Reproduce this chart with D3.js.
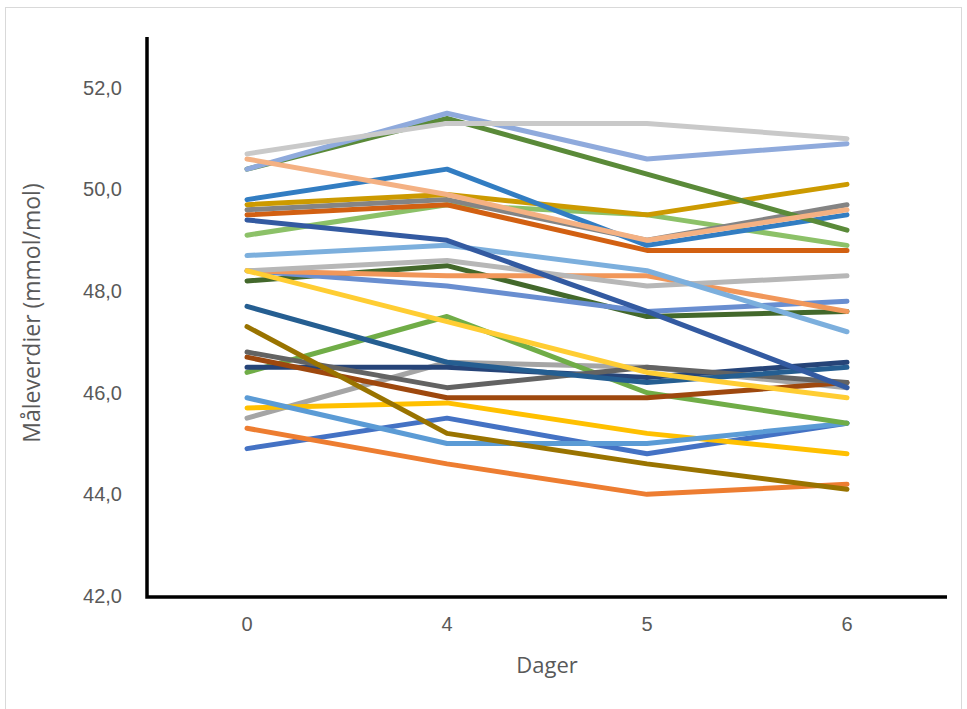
<!DOCTYPE html>
<html>
<head>
<meta charset="utf-8">
<script src="https://cdn.jsdelivr.net/npm/d3@7"></script>
<style>
  html, body { margin: 0; padding: 0; background: #ffffff; }
  svg { display: block; font-family: "Open Sans", "Noto Sans", sans-serif; }
</style>
</head>
<body>
<svg id="chart" width="967" height="709"></svg>
<script>
// Days on the x axis
const days = ["0", "4", "5", "6"];

// Y axis ticks
const yTicks = [42, 44, 46, 48, 50, 52];

// One row per sample: measured value at day 0, 4, 5, 6
const readings = [
  [44.9, 45.5, 44.8, 45.4],
  [45.3, 44.6, 44.0, 44.2],
  [45.5, 46.6, 46.5, 46.1],
  [45.7, 45.8, 45.2, 44.8],
  [45.9, 45.0, 45.0, 45.4],
  [46.4, 47.5, 46.0, 45.4],
  [46.5, 46.5, 46.3, 46.6],
  [46.7, 45.9, 45.9, 46.2],
  [46.8, 46.1, 46.5, 46.2],
  [47.3, 45.2, 44.6, 44.1],
  [47.7, 46.6, 46.2, 46.5],
  [48.2, 48.5, 47.5, 47.6],
  [48.4, 48.1, 47.6, 47.8],
  [48.4, 48.3, 48.3, 47.6],
  [48.4, 48.6, 48.1, 48.3],
  [48.4, 47.4, 46.4, 45.9],
  [48.7, 48.9, 48.4, 47.2],
  [49.1, 49.7, 49.5, 48.9],
  [49.4, 49.0, 47.6, 46.1],
  [49.5, 49.7, 48.8, 48.8],
  [49.6, 49.8, 49.0, 49.7],
  [49.7, 49.9, 49.5, 50.1],
  [49.8, 50.4, 48.9, 49.5],
  [50.4, 51.4, 50.3, 49.2],
  [50.4, 51.5, 50.6, 50.9],
  [50.6, 49.9, 49.0, 49.6],
  [50.7, 51.3, 51.3, 51.0]
];

// Line colours, in series order
const colors = [
  "#4472c4", "#ed7d31", "#a5a5a5", "#ffc000", "#5b9bd5", "#70ad47",
  "#264478", "#9e480e", "#636363", "#997300", "#255e91", "#43682b",
  "#698ed0", "#f1975a", "#b7b7b7", "#ffcd33", "#7cafdd", "#8cc168",
  "#335aa1", "#d26012", "#848484", "#cc9a00", "#327dc2", "#5a8a39",
  "#8faadc", "#f4b183", "#c9c9c9"
];

const svg = d3.select("#chart");

// Outer chart frame
svg.append("rect")
  .attr("x", 5.5).attr("y", 7.5)
  .attr("width", 956).attr("height", 720)
  .attr("fill", "none")
  .attr("stroke", "#d9d9d9")
  .attr("stroke-width", 1);

const plot = { left: 147, right: 947, top: 37, bottom: 596 };

const x = d3.scaleBand()
  .domain(days)
  .range([plot.left, plot.right]);

const y = d3.scaleLinear()
  .domain([42, 53])
  .range([plot.bottom, plot.top]);

const fmt = v => d3.format(".1f")(v).replace(".", ",");

// Y axis labels
const yAxis = svg.append("g")
  .attr("transform", `translate(${plot.left},0)`)
  .call(d3.axisLeft(y).tickValues(yTicks).tickFormat(fmt).tickSize(0).tickPadding(25));
yAxis.select(".domain").remove();
yAxis.selectAll("text")
  .attr("fill", "#595959")
  .style("font-size", "20px");

// X axis labels
const xAxis = svg.append("g")
  .attr("transform", `translate(0,${plot.bottom})`)
  .call(d3.axisBottom(x).tickSize(0).tickPadding(21));
xAxis.select(".domain").remove();
xAxis.selectAll("text")
  .attr("fill", "#595959")
  .style("font-size", "20px");

// Series lines
const line = d3.line()
  .x((d, i) => x(days[i]) + x.bandwidth() / 2)
  .y(d => y(d));

svg.append("g")
  .selectAll("path")
  .data(readings)
  .join("path")
  .attr("d", line)
  .attr("fill", "none")
  .attr("stroke", (d, i) => colors[i])
  .attr("stroke-width", 5)
  .attr("stroke-linecap", "round")
  .attr("stroke-linejoin", "round");

// Axis lines
svg.append("path")
  .attr("d", `M${plot.left},${plot.top}V${plot.bottom + 1}H${plot.right}`)
  .attr("fill", "none")
  .attr("stroke", "#000000")
  .attr("stroke-width", 3.5);

// Axis titles
svg.append("text")
  .attr("transform", `translate(40,313) rotate(-90)`)
  .attr("text-anchor", "middle")
  .attr("fill", "#595959")
  .style("font-size", "23px")
  .text("Måleverdier (mmol/mol)");

svg.append("text")
  .attr("x", (plot.left + plot.right) / 2)
  .attr("y", 673)
  .attr("text-anchor", "middle")
  .attr("fill", "#595959")
  .style("font-size", "22px")
  .text("Dager");
</script>
</body>
</html>
